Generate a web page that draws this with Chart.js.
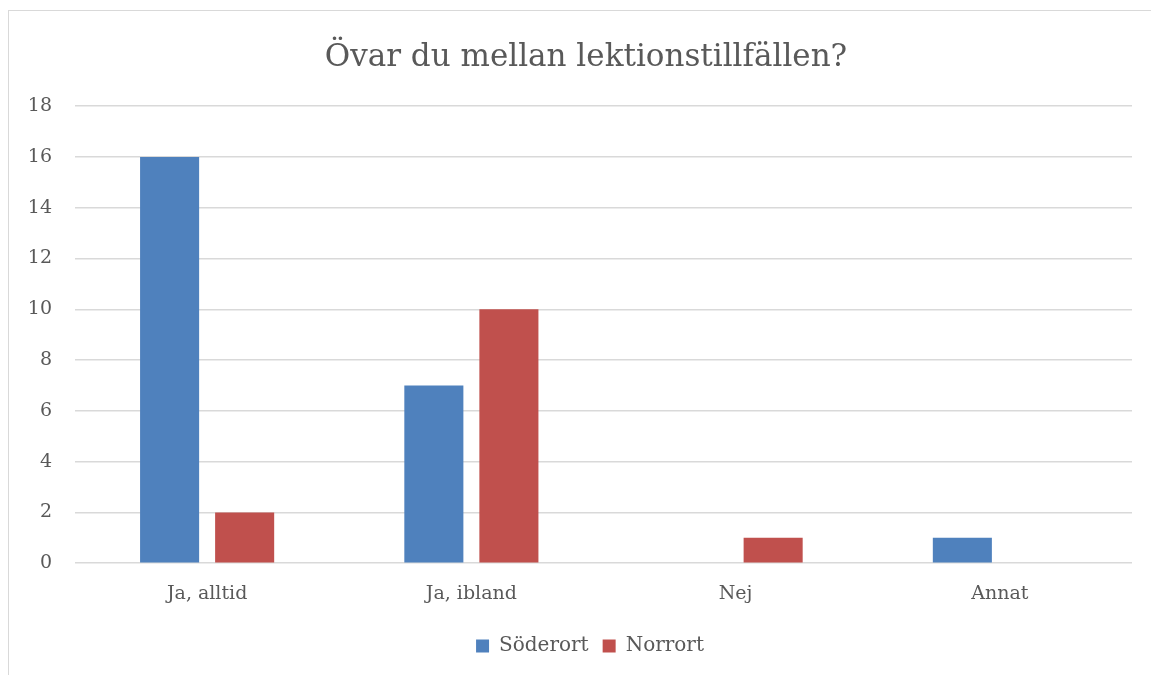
<!DOCTYPE html>
<html>
<head>
<meta charset="utf-8">
<script src="https://cdn.jsdelivr.net/npm/chart.js@4/dist/chart.umd.min.js"></script>
<style>
  html, body { margin: 0; padding: 0; background: #ffffff; overflow: hidden; width: 1151px; height: 675px; }
  #frame { position: absolute; left: 8px; top: 10px; width: 1200px; height: 700px; border: 1.5px solid #d9d9d9; box-sizing: border-box; }
  #c { position: absolute; left: 0; top: 0; }
</style>
</head>
<body>
<div id="frame"></div>
<canvas id="c" width="1151" height="675"></canvas>
<script>
const title = "Övar du mellan lektionstillfällen?";
const categories = ["Ja, alltid", "Ja, ibland", "Nej", "Annat"];
const seriesNames = ["Söderort", "Norrort"];
const soderort = [16, 7, 0, 1];
const norrort = [2, 10, 1, 0];
const yTicks = [0, 2, 4, 6, 8, 10, 12, 14, 16, 18];

const FONT = "'DejaVu Serif', serif";
const TEXT = "#595959";
const GRID = "#d9d9d9";

// Centre title and legend on the chart frame rather than the canvas
const shiftBoxes = {
  id: 'shiftBoxes',
  afterLayout(chart) {
    if (chart.titleBlock) { chart.titleBlock.left += 20; chart.titleBlock.right += 20; }
    if (chart.legend) { chart.legend.left += 24; chart.legend.right += 24; }
  }
};

new Chart(document.getElementById('c'), {
  type: 'bar',
  data: {
    labels: categories,
    datasets: [
      { label: seriesNames[0], data: soderort, backgroundColor: '#4F81BD', categoryPercentage: 0.568, barPercentage: 0.787 },
      { label: seriesNames[1], data: norrort, backgroundColor: '#C0504D', categoryPercentage: 0.568, barPercentage: 0.787 }
    ]
  },
  plugins: [shiftBoxes],
  options: {
    responsive: false,
    animation: false,
    layout: { padding: { left: 0, right: 19, top: 0, bottom: 9 } },
    plugins: {
      title: {
        display: true, text: title, color: TEXT,
        font: { family: FONT, size: 31, weight: 'normal' },
        padding: { top: 39, bottom: 30 }
      },
      legend: {
        position: 'bottom',
        labels: {
          color: TEXT, font: { family: FONT, size: 20 },
          boxWidth: 13, boxHeight: 13, padding: 14
        }
      },
      tooltip: { enabled: false }
    },
    scales: {
      x: {
        afterFit: (s) => { s.height += 6; },
        grid: { display: false },
        border: { display: false },
        ticks: { color: TEXT, font: { family: FONT, size: 19 }, padding: 11 }
      },
      y: {
        min: 0, max: 18,
        afterBuildTicks: (s) => { s.ticks = yTicks.map(v => ({ value: v })); },
        afterFit: (s) => { s.width = 75; },
        grid: { color: GRID, lineWidth: 1.5, drawTicks: false },
        border: { display: false },
        ticks: { color: TEXT, font: { family: FONT, size: 19 }, padding: 23 }
      }
    }
  }
});
</script>
</body>
</html>
